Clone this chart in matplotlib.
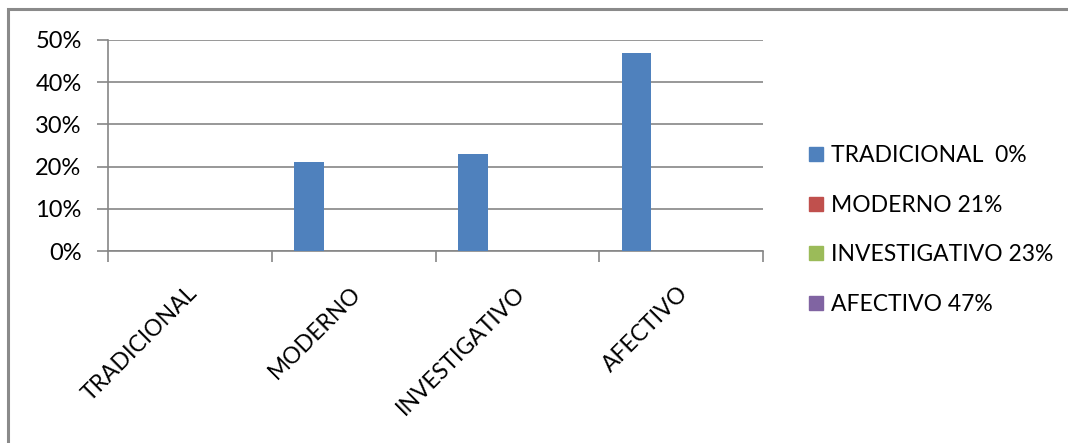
import matplotlib
matplotlib.use('Agg')
import matplotlib.pyplot as plt
import numpy as np
from matplotlib.lines import Line2D
from matplotlib.patches import Rectangle
from matplotlib.ticker import PercentFormatter
from matplotlib.transforms import ScaledTranslation

categories = ["TRADICIONAL", "MODERNO", "INVESTIGATIVO", "AFECTIVO"]
values = [0.0, 0.21, 0.23, 0.47]
legend_labels = ["TRADICIONAL  0%", "MODERNO 21%", "INVESTIGATIVO 23%", "AFECTIVO 47%"]
legend_colors = ["#4F81BD", "#C0504D", "#9BBB59", "#8064A2"]

plt.rcParams['font.family'] = ['Lato', 'DejaVu Sans']
grid_col = '#868686'

fig = plt.figure(figsize=(10.68, 4.43), dpi=100)
ax = fig.add_axes([108/1068, 1 - 251/443, (763 - 108)/1068, (251 - 40)/443])

# excel style cluster: 4 series, gap 150%, only first series drawn
n_series = 4
w = 1 / (n_series + 1.5)
x = np.arange(len(categories)) + 0.75 * w + w / 2
ax.bar(x, values, width=w, color="#4F81BD", zorder=3)

ax.set_xlim(0, len(categories))
ax.set_ylim(0, 0.5)
ax.set_yticks(np.arange(0, 0.51, 0.1))
ax.yaxis.set_major_formatter(PercentFormatter(1.0, decimals=0))
ax.grid(axis='y', color=grid_col, lw=1.2, zorder=0)

ax.set_xticks(np.arange(len(categories)) + 0.5)
ax.set_xticklabels(categories, rotation=45, ha='right', va='center', rotation_mode='anchor')
ax.set_xticks(np.arange(len(categories) + 1), minor=True)
ax.tick_params(axis='x', which='major', length=0, pad=28, labelsize=16.5)
ax.tick_params(axis='x', which='minor', length=8, color=grid_col, width=1.2)
ax.tick_params(axis='y', length=8, color=grid_col, width=1.2, labelsize=17, pad=11)
shift = ScaledTranslation(4/100, 0, fig.dpi_scale_trans)
for lab in ax.get_xticklabels():
    lab.set_transform(lab.get_transform() + shift)

for s in ['top', 'right']:
    ax.spines[s].set_visible(False)
for s in ['left', 'bottom']:
    ax.spines[s].set_color(grid_col)
    ax.spines[s].set_linewidth(1.2)

handles = [Line2D([], [], marker='s', ls='none', markersize=9.5, color=c) for c in legend_colors]
fig.legend(handles, legend_labels, loc='center left', bbox_to_anchor=(800/1068, 1 - 230/443),
           frameon=False, fontsize=16.5, handlelength=0.6, handletextpad=0.35,
           labelspacing=1.25, borderaxespad=0)

fig.add_artist(Rectangle((8/1068, -0.1), 1.2, 1.1 - 9/443, transform=fig.transFigure,
                         fill=False, ec='#8a8a8a', lw=2.2))

fig.savefig('out.png', dpi=100)
